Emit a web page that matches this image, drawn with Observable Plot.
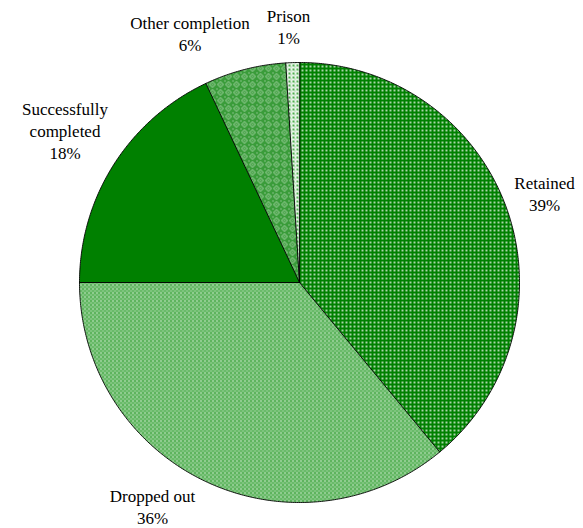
<!DOCTYPE html>
<html>
<head>
<meta charset="utf-8">
<script src="https://cdn.jsdelivr.net/npm/d3@7"></script>
<script src="https://cdn.jsdelivr.net/npm/@observablehq/plot@0.6"></script>
<style>
  html, body { margin: 0; padding: 0; background: #fff; }
  #chart { width: 583px; height: 528px; }
  #chart svg text, #chart svg tspan { font-family: "Liberation Serif", "Times New Roman", "DejaVu Serif", serif !important; }
</style>
</head>
<body>
<div id="chart"></div>
<script>
// ---- data ----
const categories = ["Retained", "Dropped out", "Successfully completed", "Other completion", "Prison"];
const shares = [39, 36, 18, 6, 1];
const labelLines = ["Retained\n39%", "Dropped out\n36%", "Successfully\ncompleted\n18%", "Other completion\n6%", "Prison\n1%"];

// ---- layout ----
const R = 220, CX = 299, CY = 282;
// label anchors in pixels (centre x, baseline of last line)
const labelPx = [[544, 210], [152, 523], [64.5, 158], [189.5, 50], [288, 43]];
const patternIds = ["pRetained", "pDropped", "pSuccess", "pOther", "pPrison"];
const serif = "Liberation Serif, Times New Roman, DejaVu Serif, serif";

const pie = d3.pie().sort(null).value(d => d.value)(categories.map((c, i) => ({name: c, value: shares[i]})));

function slicePolygon(a0, a1) {
  const pts = [[0, 0]];
  const n = Math.max(2, Math.ceil((a1 - a0) / (Math.PI / 360)));
  for (let k = 0; k <= n; k++) {
    const a = a0 + (a1 - a0) * k / n;
    pts.push([Math.sin(a), Math.cos(a)]);
  }
  pts.push([0, 0]);
  return pts;
}

const slices = {
  type: "FeatureCollection",
  features: pie.map((p, i) => ({
    type: "Feature",
    properties: {name: categories[i]},
    geometry: {type: "Polygon", coordinates: [slicePolygon(p.startAngle, p.endAngle)]}
  }))
};

const labels = categories.map((c, i) => ({
  name: c,
  text: labelLines[i],
  x: (labelPx[i][0] - CX) / R,
  y: (CY - labelPx[i][1]) / R
}));

const domain = {type: "Polygon", coordinates: [[[-1, -1], [1, -1], [1, 1], [-1, 1], [-1, -1]]]};

const chart = Plot.plot({
  width: 583,
  height: 528,
  margin: 0,
  projection: {
    type: "reflect-y", domain, clip: false,
    insetLeft: CX - R, insetRight: 583 - CX - R,
    insetTop: CY - R, insetBottom: 528 - CY - R
  },
  color: {domain: categories, range: patternIds.map(id => `url(#${id})`)},
  style: {background: "#fff"},
  marks: [
    Plot.geo(slices, {fill: d => d.properties.name, stroke: "#000", strokeWidth: 0.9, strokeLinejoin: "round"}),
    Plot.text(labels, {x: "x", y: "y", text: "text", lineAnchor: "bottom", lineHeight: 1.27, fontSize: 17, fontFamily: serif, fill: "#000"})
  ]
});

// pattern definitions
const ns = "http://www.w3.org/2000/svg";
const defs = document.createElementNS(ns, "defs");
defs.innerHTML = `
  <pattern id="pRetained" width="4" height="4" patternUnits="userSpaceOnUse">
    <rect width="4" height="4" fill="#008000"/>
    <rect x="1" y="1" width="2" height="2" fill="#ffffff" fill-opacity="0.55"/>
    <rect x="1.5" y="1.5" width="1" height="1" fill="#ffffff"/>
  </pattern>
  <pattern id="pDropped" width="4" height="4" patternUnits="userSpaceOnUse">
    <rect width="4" height="4" fill="#6abb6a"/>
    <rect x="0" y="0" width="1" height="1" fill="#ffffff"/>
    <rect x="2" y="2" width="1" height="1" fill="#b4ddb4"/>
    <rect x="2" y="0" width="1" height="1" fill="#3a9f3a"/>
  </pattern>
  <pattern id="pSuccess" width="4" height="4" patternUnits="userSpaceOnUse">
    <rect width="4" height="4" fill="#008000"/>
  </pattern>
  <pattern id="pOther" width="8" height="8" patternUnits="userSpaceOnUse">
    <rect width="8" height="8" fill="#3a9c3a"/>
    <path d="M4 1 L7 4 L4 7 L1 4 Z" fill="none" stroke="#9fd09f" stroke-width="1"/>
    <rect x="3.5" y="3.5" width="1" height="1" fill="#ffffff"/>
    <rect x="0" y="0" width="1" height="1" fill="#ffffff" fill-opacity="0.7"/>
  </pattern>
  <pattern id="pPrison" width="4" height="4" patternUnits="userSpaceOnUse">
    <rect width="4" height="4" fill="#e8f4e8"/>
    <rect x="0" y="0" width="2" height="2" fill="#4fae4f"/>
    <rect x="2" y="2" width="1" height="1" fill="#8ccc8c"/>
  </pattern>`;
chart.insertBefore(defs, chart.firstChild);
document.getElementById("chart").appendChild(chart);
</script>
</body>
</html>
